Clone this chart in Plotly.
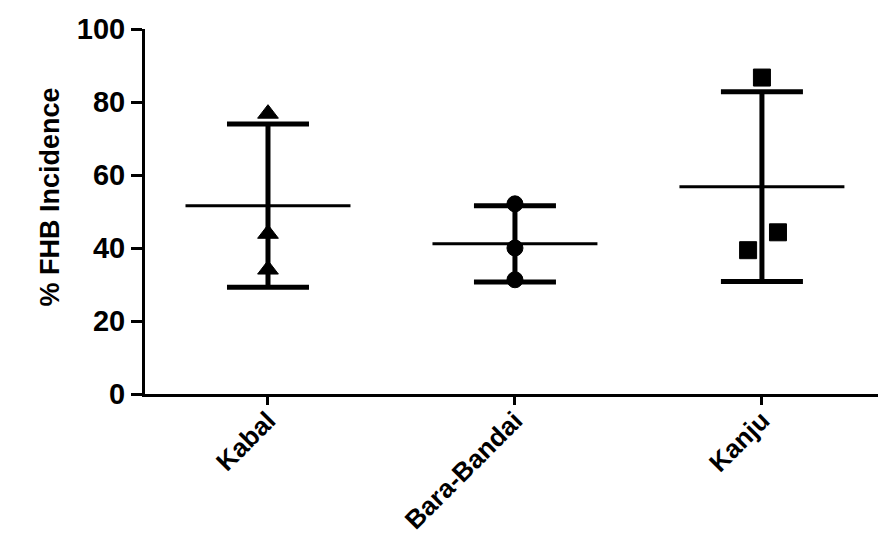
import numpy as np
import plotly.graph_objects as go

categories = ["Kabal", "Bara-Bandai", "Kanju"]
kabal = [76.8, 43.9, 34.1]
bara_bandai = [52.1, 40.0, 31.3]
kanju = [86.7, 44.3, 39.4]
kanju_jitter = [0.0, 0.065, -0.056]
y_ticks = [0, 20, 40, 60, 80, 100]

series = [kabal, bara_bandai, kanju]
symbols = ["triangle-up", "circle", "square"]
sizes = [18, 16, 17]
jitters = [[0, 0, 0], [0, 0, 0], kanju_jitter]

FONT = "Liberation Sans, Arial, sans-serif"
half = 0.334

fig = go.Figure()
for i, (vals, sym, sz, jit) in enumerate(zip(series, symbols, sizes, jitters)):
    m = float(np.mean(vals))
    sd = float(np.std(vals, ddof=1))
    # mean line
    fig.add_trace(go.Scatter(x=[i - half, i + half], y=[m, m], mode="lines",
                             line=dict(color="black", width=3),
                             showlegend=False, hoverinfo="skip"))
    # SD error bar
    fig.add_trace(go.Scatter(x=[i], y=[m], mode="markers",
                             marker=dict(size=1, color="rgba(0,0,0,0)"),
                             error_y=dict(type="data", array=[sd], visible=True,
                                          color="black", thickness=5, width=41),
                             showlegend=False, hoverinfo="skip"))
    # points
    fig.add_trace(go.Scatter(x=[i + j for j in jit], y=vals, mode="markers",
                             marker=dict(symbol=sym, size=sz, color="black",
                                         line=dict(color="black", width=1)),
                             showlegend=False, name=categories[i]))

fig.update_layout(
    width=878, height=537,
    margin=dict(l=145, r=0, t=29, b=143),
    paper_bgcolor="white", plot_bgcolor="white",
    font=dict(family=FONT, color="black"),
    xaxis=dict(range=[-0.498, 2.47], tickvals=[0, 1, 2], ticktext=categories,
               tickangle=-45, showline=True, linecolor="black", linewidth=3,
               ticks="outside", ticklen=8, tickwidth=3, tickcolor="black",
               showgrid=False, zeroline=False, automargin=False,
               ticklabelstandoff=-10,
               tickfont=dict(family=FONT, size=26, color="black", weight="bold")),
    yaxis=dict(range=[0, 100], tickvals=y_ticks, showline=True, linecolor="black",
               linewidth=3, ticks="outside", ticklen=11, tickwidth=3,
               tickcolor="black", showgrid=False, zeroline=False, automargin=False,
               tickfont=dict(family=FONT, size=29, color="black", weight="bold")),
    annotations=[dict(text="% FHB Incidence", textangle=-90, xref="paper", yref="paper",
                      x=-0.13, y=0.54, xanchor="center", yanchor="middle",
                      showarrow=False,
                      font=dict(family=FONT, size=27, color="black", weight="bold"))],
)

fig.write_html("out.html")
